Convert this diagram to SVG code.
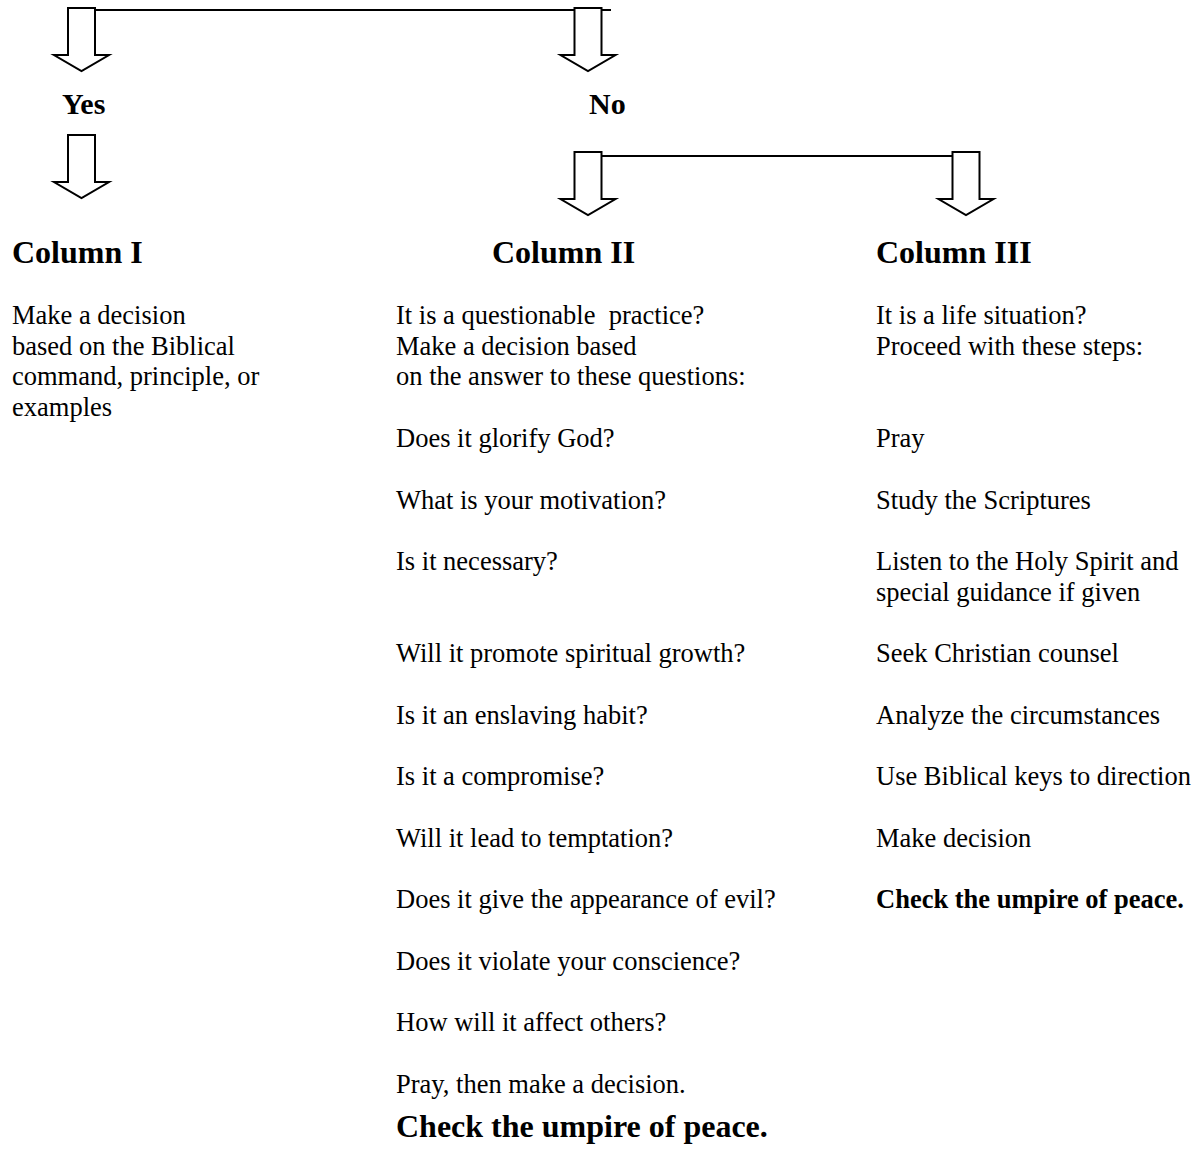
<svg xmlns="http://www.w3.org/2000/svg" xmlns:xlink="http://www.w3.org/1999/xlink" width="1198" height="1171" viewBox="0 0 1198 1171">
<style>
.t{font-family:"Liberation Serif","Times New Roman",serif;font-size:26.5px;fill:#000}
.b{font-weight:bold}
.h{font-family:"Liberation Serif","Times New Roman",serif;font-size:32px;font-weight:bold;fill:#000}
.yn{font-family:"Liberation Serif","Times New Roman",serif;font-size:30px;font-weight:bold;fill:#000}
.ln{stroke:#000;stroke-width:2;fill:none}
.ar{stroke:#000;stroke-width:2;fill:#fff;stroke-linejoin:miter}
</style>
<defs>
<path id="arrow" d="M-13.5,0 V47 H-27.5 L0,63 L27.5,47 H13.5 V0 Z"/>
</defs>
<rect width="1198" height="1171" fill="#fff"/>
<g id="connectors">
<line class="ln" x1="95" y1="10" x2="611" y2="10"/>
<line class="ln" x1="601.5" y1="156" x2="952.5" y2="156"/>
<use xlink:href="#arrow" class="ar" x="81.5" y="8"/>
<use xlink:href="#arrow" class="ar" x="588" y="8"/>
<use xlink:href="#arrow" class="ar" x="81.5" y="135"/>
<use xlink:href="#arrow" class="ar" x="588" y="152"/>
<use xlink:href="#arrow" class="ar" x="966" y="152"/>
</g>
<g id="yes"><text class="yn" x="62" y="114">Yes</text></g>
<g id="no"><text class="yn" x="589" y="114">No</text></g>
<g id="col1">
<text class="h" x="12" y="263">Column I</text>
<text class="t" x="12" y="324">Make a decision</text>
<text class="t" x="12" y="354.7">based on the Biblical</text>
<text class="t" x="12" y="385.4">command, principle, or</text>
<text class="t" x="12" y="416.1">examples</text>
</g>
<g id="col2">
<text class="h" x="492" y="263">Column II</text>
<text class="t" x="396" y="324" xml:space="preserve">It is a questionable  practice?</text>
<text class="t" x="396" y="354.7">Make a decision based</text>
<text class="t" x="396" y="385.4">on the answer to these questions:</text>
<text class="t" x="396" y="447">Does it glorify God?</text>
<text class="t" x="396" y="508.5">What is your motivation?</text>
<text class="t" x="396" y="570">Is it necessary?</text>
<text class="t" x="396" y="662">Will it promote spiritual growth?</text>
<text class="t" x="396" y="723.5">Is it an enslaving habit?</text>
<text class="t" x="396" y="785">Is it a compromise?</text>
<text class="t" x="396" y="846.5">Will it lead to temptation?</text>
<text class="t" x="396" y="908">Does it give the appearance of evil?</text>
<text class="t" x="396" y="969.5">Does it violate your conscience?</text>
<text class="t" x="396" y="1031">How will it affect others?</text>
<text class="t" x="396" y="1092.5">Pray, then make a decision.</text>
</g>
<g id="col3">
<text class="h" x="876" y="263">Column III</text>
<text class="t" x="876" y="324">It is a life situation?</text>
<text class="t" x="876" y="354.7">Proceed with these steps:</text>
<text class="t" x="876" y="447">Pray</text>
<text class="t" x="876" y="508.5">Study the Scriptures</text>
<text class="t" x="876" y="570">Listen to the Holy Spirit and</text>
<text class="t" x="876" y="600.7">special guidance if given</text>
<text class="t" x="876" y="662">Seek Christian counsel</text>
<text class="t" x="876" y="723.5">Analyze the circumstances</text>
<text class="t" x="876" y="785">Use Biblical keys to direction</text>
<text class="t" x="876" y="846.5">Make decision</text>
<text class="t b" x="876" y="908">Check the umpire of peace.</text>
</g>
<g id="final">
<text class="h" x="396" y="1137">Check the umpire of peace.</text>
</g>
</svg>
